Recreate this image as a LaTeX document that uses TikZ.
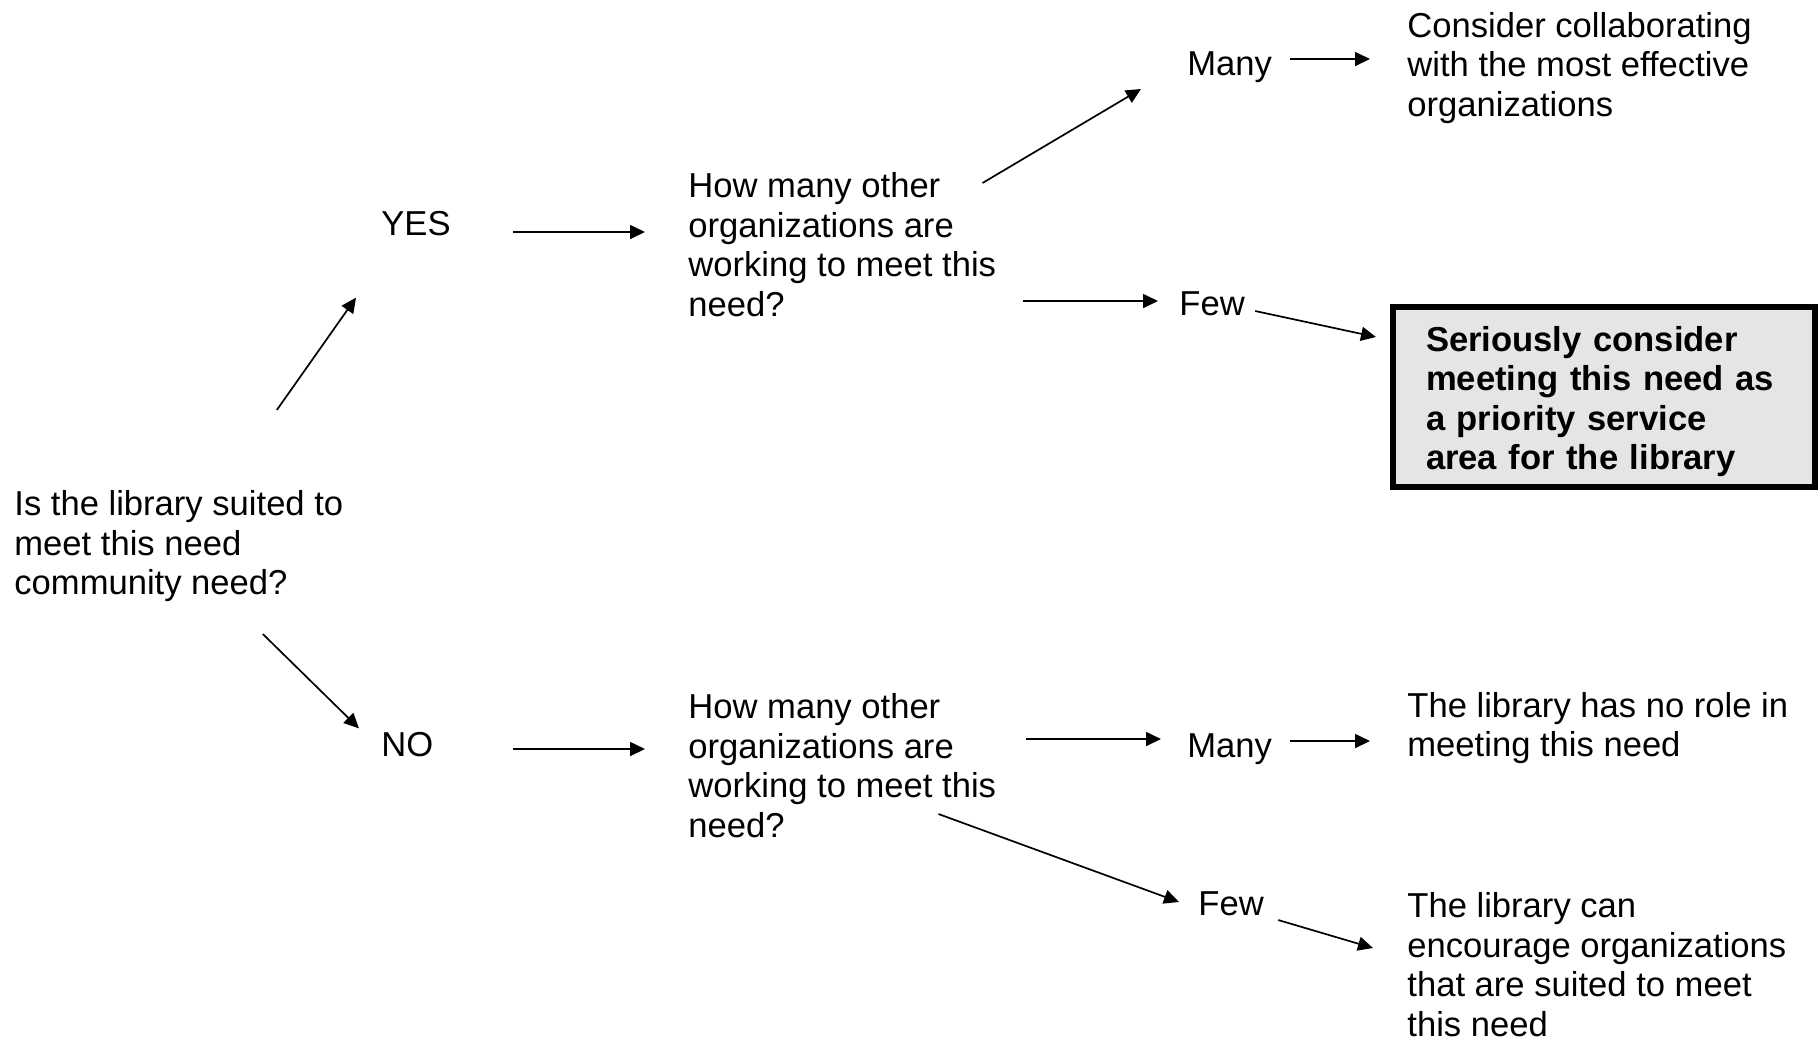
\documentclass[tikz,border=0pt]{standalone}
\usepackage{fontspec}
\setmainfont{Liberation Sans}
\usetikzlibrary{arrows.meta}

\begin{document}
\begin{tikzpicture}[x=0.5pt,y=-0.5pt,
  txt/.style={anchor=west,inner sep=0pt,align=left,font=\fontsize{17.3pt}{19.75pt}\selectfont},
  prio/.style={draw,line width=3pt,fill=gray!20,inner xsep=16.5pt,text width=178pt,
    minimum width=211pt,minimum height=90pt,align=left,font=\fontsize{17.3pt}{19.75pt}\selectfont\bfseries},
  arr/.style={line width=0.85pt,-{Stealth[length=7.5pt,width=7pt,inset=0pt]}}]
  \useasboundingbox (0,0) rectangle (1820,1041);
  % question
  \node[txt] (root) at (14,546.5) {Is the library suited to\\meet this need\\community need?};
  \node[txt] (yes) at (381,224) {YES};
  \node[txt] (no) at (381,745) {NO};
  \node[txt] (q1) at (688,244.5) {How many other\\organizations are\\working to meet this\\need?};
  \node[txt] (q2) at (688,765.5) {How many other\\organizations are\\working to meet this\\need?};
  \node[txt] (many1) at (1187,67.5) {Many};
  \node[txt] (few1) at (1179,304) {Few};
  \node[txt] (many2) at (1187,749.5) {Many};
  \node[txt] (few2) at (1198,904) {Few};
  % outcomes
  \node[txt] (collab) at (1407,68) {Consider collaborating\\with the most effective\\organizations};
  \node[prio] (serv) at (1604,397) {\rule{0pt}{17.2pt}Seriously consider\\meeting this need as\\a priority service\\area for the library};
  \node[txt] (norole) at (1407,728) {The library has no role in\\meeting this need};
  \node[txt] (encour) at (1407,964.5) {The library can\\encourage organizations\\that are suited to meet\\this need};
  % arrows
  \draw[arr] ([shift={(98,-80.5)}]root.north) -- ([shift={(-25,61)}]yes.south west); % up
  \draw[arr] ([shift={(84,31.5)}]root.south) -- ([shift={(-22,-4)}]no.north west); % down
  \draw[arr] ([shift={(62,8)}]yes.east) -- ([shift={(-43,-12.5)}]q1.west);
  \draw[arr] ([shift={(79,4)}]no.east) -- ([shift={(-43,-16.5)}]q2.west);
  \draw[arr] ([shift={(-14,-61.5)}]q1.east) -- ([shift={(-46,21.5)}]many1.west);
  \draw[arr] ([shift={(27,56.5)}]q1.east) -- ([shift={(-21,-3)}]few1.west);
  \draw[arr] ([shift={(18,-8.5)}]many1.east) -- ([shift={(-37,-9)}]collab.west);
  \draw[arr] ([shift={(10,7)}]few1.east) -- ([shift={(-14,33)}]serv.north west);
  \draw[arr] ([shift={(30,-26.5)}]q2.east) -- ([shift={(-26,-10.5)}]many2.west);
  \draw[arr] ([shift={(-58,48.5)}]q2.east) -- ([shift={(-19,-2)}]few2.west);
  \draw[arr] ([shift={(18,-8.5)}]many2.east) -- ([shift={(-37,13)}]norole.west);
  \draw[arr] ([shift={(14,16)}]few2.east) -- ([shift={(-34,-16.5)}]encour.west);
\end{tikzpicture}
\end{document}
